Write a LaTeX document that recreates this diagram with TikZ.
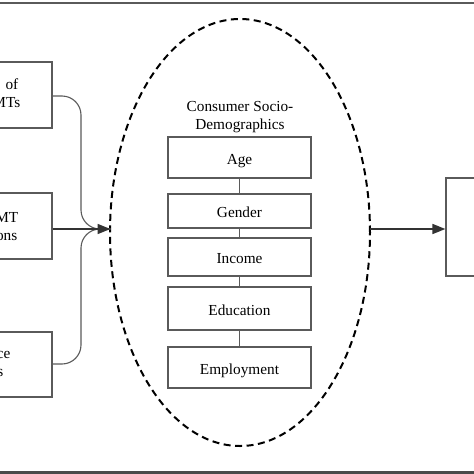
\documentclass[tikz,border=0pt]{standalone}
\usepackage{fontspec}
\setmainfont{Liberation Serif}
\usetikzlibrary{shapes.geometric,arrows.meta}
\definecolor{boxgray}{HTML}{5A5A5A}
\definecolor{bargray}{HTML}{4A4A4A}
\tikzset{
  box/.style={draw=boxgray,line width=1.2pt,rectangle,inner sep=0pt},
  lbl/.style={font=\fontsize{15.3}{18}\selectfont,inner sep=0pt},
  inbox/.style={box,lbl,minimum width=143pt,text height=13pt,text depth=0pt},
  link/.style={draw=boxgray,line width=1.1pt},
  arr/.style={draw=black!80,line width=1.6pt,-{Triangle[length=13pt,width=10pt]}},
  dashell/.style={draw=black,line width=2pt,dash pattern=on 7pt off 4.5pt,ellipse,inner sep=0pt}
}
\begin{document}
\begin{tikzpicture}[x=1pt,y=-1pt]
\useasboundingbox (0,0) rectangle (474,474);
\fill[white] (0,0) rectangle (474,474);
% frame lines
\draw[boxgray,line width=1.2pt] (0,3) -- (474,3);
\fill[bargray] (0,470.5) rectangle (474,474);
% ellipse
\node[dashell,minimum width=260pt,minimum height=427pt] (ell) at (240,232.5) {};
\coordinate (ein) at (110.5,229);
\coordinate (eout) at (369.5,229);
% left boxes
\node[box,minimum width=57pt,minimum height=66pt] (b1) at (23.5,95) {};
\node[box,minimum width=57pt,minimum height=66pt] (b2) at (23.5,226) {};
\node[box,minimum width=57pt,minimum height=65pt] (b3) at (23.5,364.5) {};
\node[lbl,anchor=base east] (t1a) at (18.5,89) {of};
\node[lbl,anchor=base east] (t1b) at (20.5,107) {MTs};
\node[lbl,anchor=base east] (t2a) at (18.5,222) {MT};
\node[lbl,anchor=base east] (t2b) at (17.5,240) {ons};
\node[lbl,anchor=base east] (t3a) at (10.5,358) {ce};
\node[lbl,anchor=base east] (t3b) at (3.5,376) {s};
% right box
\node[box,minimum width=34pt,minimum height=98pt] (rb) at (463,227) {};
% inner title
\node[lbl,align=center] (title) at (240,117) {Consumer Socio-\\Demographics};
% inner boxes
\node[inbox,minimum height=41pt] (age) at (239.5,157.5) {Age};
\node[inbox,minimum height=34pt] (gen) at (239.5,211) {Gender};
\node[inbox,minimum height=38pt] (inc) at (239.5,257) {Income};
\node[inbox,minimum height=43pt] (edu) at (239.5,308.5) {Education};
\node[inbox,minimum height=41pt] (emp) at (239.5,367.5) {Employment};
\draw[link] (age) -- (gen);
\draw[link] (gen) -- (inc);
\draw[link] (inc) -- (edu);
\draw[link] (edu) -- (emp);
% brace connectors
\draw[link,rounded corners=19pt] (b1.east |- 0,96) -- (81,96) -- (81,229) -- (ein);
\draw[link,rounded corners=19pt] (b3.east |- 0,364) -- (81,364) -- (81,229) -- (ein);
\draw[arr] (b2.east |- ein) -- (ein);
\draw[arr] (eout) -- (rb.west |- eout);
\end{tikzpicture}
\end{document}
